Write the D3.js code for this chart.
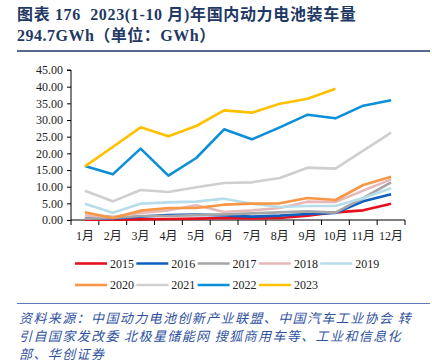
<!DOCTYPE html>
<html><head><meta charset="utf-8">
<script src="https://cdn.jsdelivr.net/npm/d3@7"></script>
<style>
html,body{margin:0;padding:0;background:#fff;}
svg{display:block;}
</style></head>
<body>
<svg id="c" width="432" height="362"></svg>
<script>
const months = ["1月","2月","3月","4月","5月","6月","7月","8月","9月","10月","11月","12月"];
const yTicks = [0,5,10,15,20,25,30,35,40,45];
const years = ["2015","2016","2017","2018","2019","2020","2021","2022","2023"];
const v2015 = [0.1,0.1,0.2,0.3,0.4,0.6,0.5,0.6,1.3,2.3,2.9,4.9];
const v2016 = [0.5,0.5,1.0,1.5,1.6,1.4,1.0,1.3,1.8,2.1,5.6,7.7];
const v2017 = [0.4,0.6,1.2,1.2,1.5,1.7,2.0,2.3,2.6,2.2,6.6,11.3];
const v2018 = [1.4,1.0,2.1,2.9,4.4,2.4,2.9,3.6,5.5,5.4,8.8,12.2];
const v2019 = [4.9,2.2,4.9,5.3,5.5,6.4,4.9,3.9,4.2,4.2,6.6,9.5];
const v2020 = [2.3,0.6,2.8,3.6,3.6,4.6,4.9,5.0,6.6,6.0,10.5,13.0];
const v2021 = [8.8,5.6,9.0,8.4,9.8,11.1,11.3,12.6,15.7,15.4,20.8,26.2];
const v2022 = [16.2,13.7,21.4,13.3,18.6,27.2,24.2,27.8,31.6,30.5,34.3,35.9];
const v2023 = [16.1,21.9,27.8,25.1,28.2,32.9,32.2,34.9,36.4,39.4];
const seriesValues = [v2015,v2016,v2017,v2018,v2019,v2020,v2021,v2022,v2023];
const colors = ["#e8101e","#0f5fc0","#a6a6a6","#e6b9b8","#b7dde8","#f79646","#d0cece","#0b8fd8","#ffc000"];

const title1 = "图表 176  2023(1-10 月)年国内动力电池装车量";
const title2 = "294.7GWh（单位：GWh）";
const source = ["资料来源：中国动力电池创新产业联盟、中国汽车工业协会 转",
                "引自国家发改委 北极星储能网 搜狐商用车等、工业和信息化",
                "部、华创证券"];

const svg = d3.select("#c");
const serif = "'Liberation Serif','Times New Roman','Noto Sans CJK SC',serif";
const navy = "#1f3864";

// Title
svg.append("text").attr("x",17).attr("y",19.5)
  .attr("font-family",serif).attr("font-weight","bold").attr("font-size",16)
  .attr("letter-spacing",0.65)
  .attr("fill",navy).style("white-space","pre").text(title1);
svg.append("text").attr("x",17).attr("y",40.5)
  .attr("font-family",serif).attr("font-weight","bold").attr("font-size",16)
  .attr("letter-spacing",0.5)
  .attr("fill",navy).text(title2);
svg.append("line").attr("x1",17).attr("x2",430).attr("y1",51).attr("y2",51)
  .attr("stroke",navy).attr("stroke-width",1.5);

// Scales
const x = d3.scaleBand().domain(months).range([71,405]).padding(0);
const y = d3.scaleLinear().domain([0,45]).range([220,70]);

// Y axis
const yAxis = d3.axisLeft(y).tickValues(yTicks).tickFormat(d3.format(".2f")).tickSize(4).tickPadding(4);
const gy = svg.append("g").attr("transform","translate(71,0)").call(yAxis);
gy.select(".domain").attr("stroke","#000").attr("d","M-4,70H0V220");
gy.selectAll(".tick line").attr("stroke","#000");
gy.selectAll("text").attr("font-family",serif).attr("font-size",12).attr("fill","#222");

// X axis
const xAxis = d3.axisBottom(x).tickSize(0).tickPadding(11);
const gx = svg.append("g").attr("transform","translate(0,220)").call(xAxis);
gx.select(".domain").attr("stroke","#000").attr("d","M71,0H405");
gx.selectAll("text").attr("font-family",serif).attr("font-size",12).attr("fill","#222");
const bounds = months.map(m => x(m)).concat([x(months[months.length-1]) + x.bandwidth()]);
gx.selectAll(".bnd").data(bounds).enter().append("line")
  .attr("x1",d=>d).attr("x2",d=>d).attr("y1",0).attr("y2",5).attr("stroke","#000");

// Lines
const line = d3.line().x((d,i)=>x(months[i]) + x.bandwidth()/2).y(d=>y(d));
seriesValues.forEach((vals,k)=>{
  svg.append("path").datum(vals).attr("d",line).attr("fill","none")
    .attr("stroke",colors[k]).attr("stroke-width",2.6).attr("stroke-linejoin","round");
});

// Legend
const legendPos = years.map((yr,i)=>({yr, col: i%5, row: Math.floor(i/5)}));
const lg = svg.append("g");
legendPos.forEach((p,i)=>{
  const lx = 75 + p.col*61.3, ly = 263.5 + p.row*21.5;
  lg.append("line").attr("x1",lx).attr("x2",lx+32).attr("y1",ly).attr("y2",ly)
    .attr("stroke",colors[i]).attr("stroke-width",2.6);
  lg.append("text").attr("x",lx+35).attr("y",ly+4).attr("font-family",serif)
    .attr("font-size",12).attr("fill","#222").text(p.yr);
});

// Bottom rule and source
svg.append("line").attr("x1",17).attr("x2",430).attr("y1",303.5).attr("y2",303.5)
  .attr("stroke","#5b7db8").attr("stroke-width",1);
source.forEach((s,i)=>{
  svg.append("text").attr("x",19).attr("y",322.5 + i*18.2)
    .attr("font-family","'Noto Sans CJK SC',sans-serif").attr("font-style","italic")
    .attr("font-size",13).attr("letter-spacing",1.4)
    .attr("fill","#2f52a0").style("white-space","pre").text(s);
});
</script>
</body></html>
